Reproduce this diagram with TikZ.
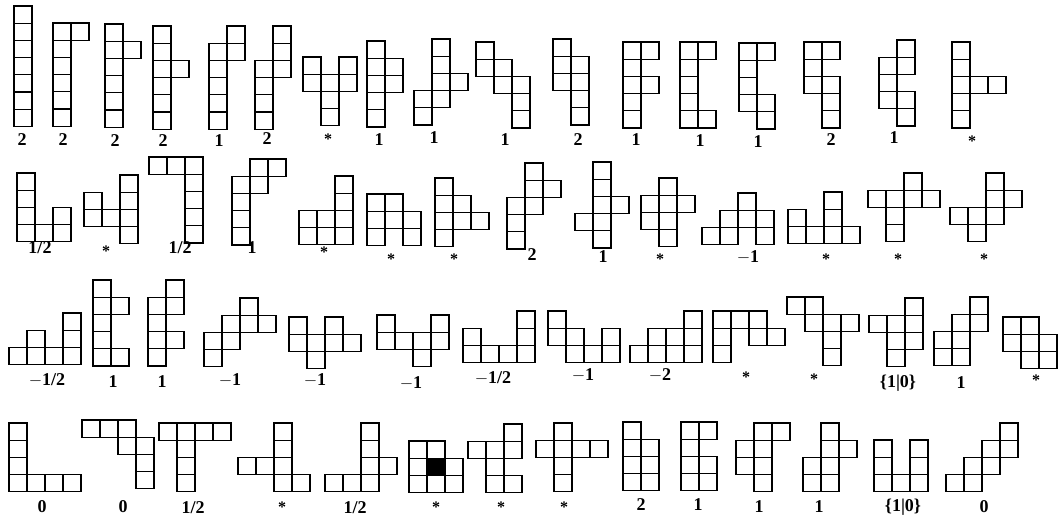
\documentclass[tikz,border=0pt]{standalone}
\usepackage{fontspec}
\setmainfont{Liberation Serif}
\usepackage{tikz}

% cell size in px
\def\cw{18}
\def\ch{17.2}
% #1,#2 = top left corner, #3 = cells col/row (row counted downwards)
\newcommand{\polyo}[3]{%
  \foreach \c/\r in {#3}
    \draw[cell] ({#1+\c*\cw},{#2+\r*\ch}) rectangle ++(\cw,\ch);}

\begin{document}
\begin{tikzpicture}[
    x=1pt, y=-1pt,
    cell/.style={draw, line width=1.3pt, fill=white},
    val/.style={inner sep=0pt, font=\bfseries\fontsize{18}{18}\selectfont},
    star/.style={inner sep=0pt, font=\bfseries\fontsize{16}{16}\selectfont}
]
\useasboundingbox[fill=white] (0,0) rectangle (1060,519);

% row 1
\polyo{14}{6}{0/0,0/1,0/2,0/3,0/4,0/5,0/6}
\polyo{53}{23}{0/0,0/1,0/2,0/3,0/4,0/5,1/0}
\polyo{105}{24}{0/0,0/1,0/2,0/3,0/4,0/5,1/1}
\polyo{153}{26}{0/0,0/1,0/2,0/3,0/4,0/5,1/2}
\polyo{209}{26}{1/0,1/1,0/1,0/2,0/3,0/4,0/5}
\polyo{255}{26}{1/0,1/1,1/2,0/2,0/3,0/4,0/5}
\polyo{303}{57}{0/0,2/0,0/1,1/1,2/1,1/2,1/3}
\polyo{367}{41}{0/0,0/1,0/2,0/3,0/4,1/1,1/2}
\polyo{414}{39}{1/0,1/1,1/2,1/3,2/2,0/3,0/4}
\polyo{476}{42}{0/0,0/1,1/1,1/2,2/2,2/3,2/4}
\polyo{553}{39}{0/0,0/1,0/2,1/1,1/2,1/3,1/4}
\polyo{623}{42}{0/0,0/1,0/2,0/3,0/4,1/0,1/2}
\polyo{680}{42}{0/0,0/1,0/2,0/3,0/4,1/0,1/4}
\polyo{739}{43}{0/0,0/1,0/2,0/3,1/0,1/3,1/4}
\polyo{804}{42}{0/0,0/1,0/2,1/0,1/2,1/3,1/4}
\polyo{879}{40}{1/0,1/1,0/1,0/2,0/3,1/3,1/4}
\polyo{952}{42}{0/0,0/1,0/2,0/3,0/4,1/2,2/2}

\node[val] (v1) at (22,140) {2};
\node[val] (v2) at (63,140) {2};
\node[val] (v3) at (115,141) {2};
\node[val] (v4) at (163,141) {2};
\node[val] (v5) at (219,141) {1};
\node[val] (v6) at (267,139) {2};
\node[star] (v7) at (328,139) {*};
\node[val] (v8) at (379,140) {1};
\node[val] (v9) at (434,138) {1};
\node[val] (v10) at (505,140) {1};
\node[val] (v11) at (578,140) {2};
\node[val] (v12) at (636,140) {1};
\node[val] (v13) at (700,141) {1};
\node[val] (v14) at (758,142) {1};
\node[val] (v15) at (831,140) {2};
\node[val] (v16) at (894,138) {1};
\node[star] (v17) at (972,141) {*};

% row 2
\polyo{17}{173}{0/0,0/1,0/2,0/3,1/3,2/2,2/3}
\polyo{84}{175}{2/0,2/1,2/2,2/3,0/1,0/2,1/2}
\polyo{149}{157}{0/0,1/0,2/0,2/1,2/2,2/3,2/4}
\polyo{232}{159}{1/0,2/0,0/1,1/1,0/2,0/3,0/4}
\polyo{299}{176}{2/0,2/1,2/2,2/3,0/2,1/2,0/3,1/3}
\polyo{367}{194}{0/0,1/0,0/1,1/1,2/1,0/2,2/2}
\polyo{435}{178}{0/0,0/1,0/2,0/3,1/1,1/2,2/2}
\polyo{507}{163}{1/0,1/1,1/2,2/1,0/2,0/3,0/4}
\polyo{575}{162}{1/0,1/1,1/2,1/3,1/4,2/2,0/3}
\polyo{641}{178}{1/0,1/1,1/2,1/3,0/1,0/2,2/1}
\polyo{702}{193}{2/0,1/1,2/1,3/1,0/2,1/2,3/2}
\polyo{788}{192}{2/0,0/1,2/1,0/2,1/2,2/2,3/2}
\polyo{868}{173}{2/0,0/1,1/1,2/1,3/1,1/2,1/3}
\polyo{950}{173}{2/0,2/1,3/1,2/2,0/2,1/2,1/3}

\node[val] (v18) at (40,248) {1/2};
\node[star] (v19) at (106,251) {*};
\node[val] (v20) at (180,248) {1/2};
\node[val] (v21) at (252,248) {1};
\node[star] (v22) at (324,252) {*};
\node[star] (v23) at (391,259) {*};
\node[star] (v24) at (454,259) {*};
\node[val] (v25) at (532,255) {2};
\node[val] (v26) at (603,257) {1};
\node[star] (v27) at (660,259) {*};
\node[val] (v28) at (748,257) {$-$1};
\node[star] (v29) at (826,259) {*};
\node[star] (v30) at (898,259) {*};
\node[star] (v31) at (984,259) {*};

% row 3
\polyo{9}{313}{3/0,1/1,3/1,0/2,1/2,2/2,3/2}
\polyo{93}{280}{0/0,0/1,0/2,0/3,0/4,1/1,1/4}
\polyo{148}{280}{1/0,0/1,1/1,0/2,0/3,1/3,0/4}
\polyo{204}{298}{2/0,1/1,2/1,3/1,0/2,1/2,0/3}
\polyo{289}{317}{0/0,2/0,0/1,1/1,2/1,3/1,1/2}
\polyo{377}{315}{0/0,3/0,0/1,1/1,2/1,3/1,2/2}
\polyo{463}{311}{3/0,0/1,3/1,0/2,1/2,2/2,3/2}
\polyo{548}{311}{0/0,0/1,1/1,3/1,1/2,2/2,3/2}
\polyo{630}{311}{3/0,1/1,2/1,3/1,0/2,1/2,2/2,3/2}
\polyo{713}{311}{0/0,1/0,2/0,0/1,2/1,3/1,0/2}
\polyo{787}{297}{0/0,1/0,1/1,2/1,3/1,2/2,2/3}
\polyo{869}{298}{2/0,0/1,1/1,2/1,1/2,2/2,1/3}
\polyo{934}{297}{2/0,1/1,2/1,0/2,1/2,0/3,1/3}
\polyo{1003}{317}{0/0,1/0,0/1,1/1,2/1,1/2,2/2}

\node[val] (v32) at (47,380) {$-$1/2};
\node[val] (v33) at (113,382) {1};
\node[val] (v34) at (162,382) {1};
\node[val] (v35) at (230,380) {$-$1};
\node[val] (v36) at (315,380) {$-$1};
\node[val] (v37) at (411,383) {$-$1};
\node[val] (v38) at (493,378) {$-$1/2};
\node[val] (v39) at (583,375) {$-$1};
\node[val] (v40) at (660,375) {$-$2};
\node[star] (v41) at (746,377) {*};
\node[star] (v42) at (814,379) {*};
\node[val] (v43) at (898,383) {\{1|0\}};
\node[val] (v44) at (961,383) {1};
\node[star] (v45) at (1036,380) {*};

% row 4
\polyo{9}{423}{0/0,0/1,0/2,0/3,1/3,2/3,3/3}
\polyo{82}{420}{0/0,1/0,2/0,2/1,3/1,3/2,3/3}
\polyo{159}{423}{0/0,1/0,2/0,3/0,1/1,1/2,1/3}
\polyo{238}{423}{2/0,2/1,2/2,2/3,0/2,1/2,3/3}
\polyo{325}{423}{2/0,2/1,2/2,2/3,3/2,0/3,1/3}
\polyo{409}{441}{0/0,1/0,0/1,1/1,2/1,0/2,1/2,2/2}
\fill (409+\cw,441+\ch) rectangle ++(\cw,\ch);
\polyo{468}{424}{2/0,0/1,1/1,2/1,1/2,1/3,2/3}
\polyo{536}{423}{1/0,0/1,1/1,2/1,3/1,1/2,1/3}
\polyo{623}{422}{0/0,0/1,0/2,0/3,1/1,1/2,1/3}
\polyo{681}{422}{0/0,0/1,0/2,0/3,1/0,1/2,1/3}
\polyo{736}{423}{1/0,2/0,0/1,1/1,0/2,1/2,1/3}
\polyo{803}{423}{1/0,1/1,2/1,1/2,1/3,0/2,0/3}
\polyo{874}{440}{0/0,0/1,0/2,2/0,2/1,2/2,1/2}
\polyo{946}{423}{3/0,2/1,3/1,1/2,2/2,0/3,1/3}

\node[val] (v46) at (42,507) {0};
\node[val] (v47) at (123,507) {0};
\node[val] (v48) at (193,508) {1/2};
\node[star] (v49) at (282,507) {*};
\node[val] (v50) at (355,508) {1/2};
\node[star] (v51) at (436,507) {*};
\node[star] (v52) at (501,507) {*};
\node[star] (v53) at (564,507) {*};
\node[val] (v54) at (641,505) {2};
\node[val] (v55) at (698,505) {1};
\node[val] (v56) at (759,507) {1};
\node[val] (v57) at (819,507) {1};
\node[val] (v58) at (903,507) {\{1|0\}};
\node[val] (v59) at (984,507) {0};
\end{tikzpicture}
\end{document}
